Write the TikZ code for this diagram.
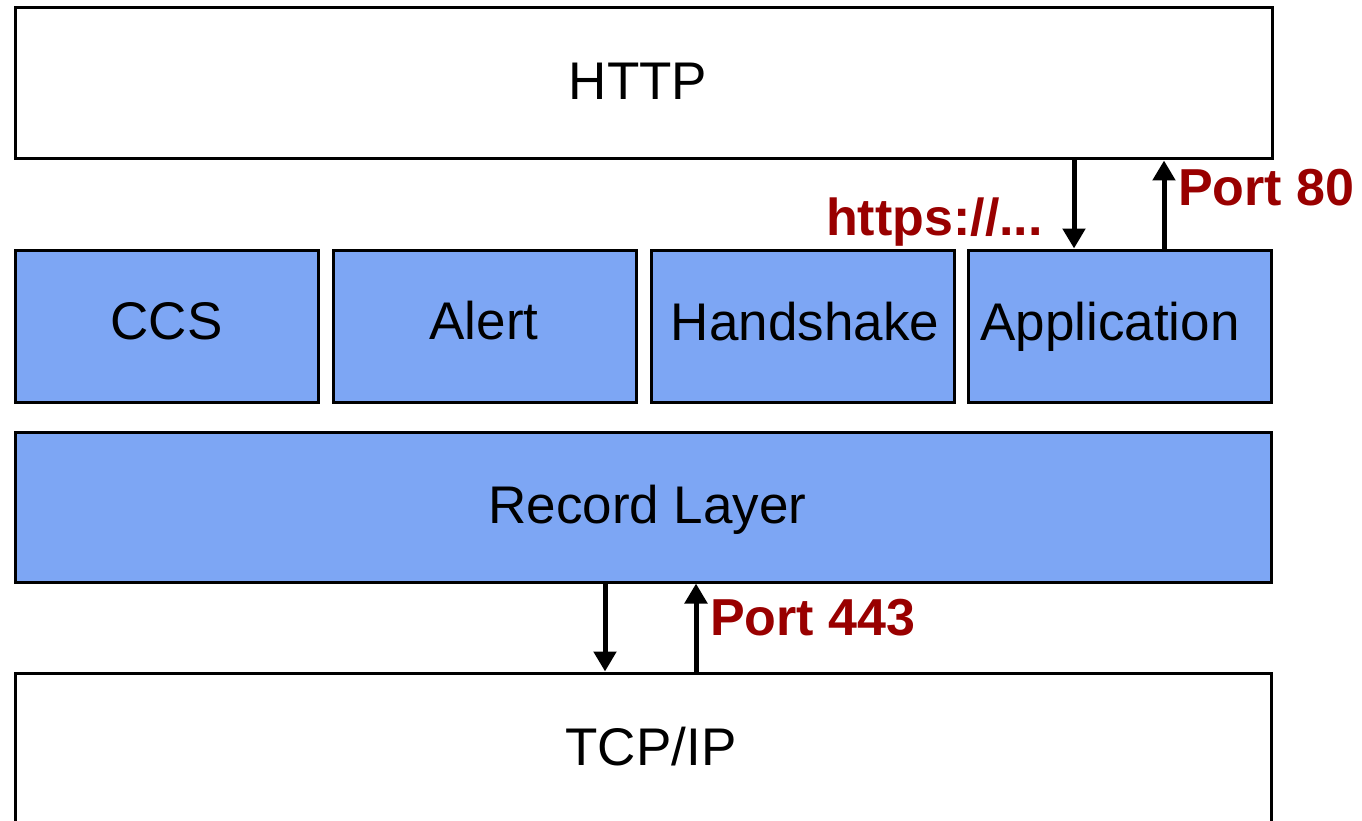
\documentclass[tikz,border=0pt]{standalone}
\usepackage{fontspec}
\setmainfont{Liberation Sans}
\usetikzlibrary{arrows.meta}
\definecolor{layerblue}{HTML}{7DA6F4}
\definecolor{portred}{HTML}{990000}
\tikzset{
  layer/.style={draw=black, line width=3pt, rectangle, inner sep=0pt},
  bluelayer/.style={layer, fill=layerblue},
  whitelayer/.style={layer, fill=white},
  layertext/.style={inner sep=0pt, anchor=base, font=\fontsize{53}{60}\selectfont},
  portlabel/.style={inner sep=0pt, text=portred,
    font=\fontsize{52}{60}\selectfont\bfseries},
  arr/.style={line width=5pt, -{Triangle[width=22pt,length=20pt]}}
}
\begin{document}
\begin{tikzpicture}[x=1pt,y=-1pt]
\useasboundingbox (0,0) rectangle (1362,821);
\fill[white] (0,0) rectangle (1362,821);
% layers
\node[whitelayer, minimum width=1257pt, minimum height=151pt] (http) at (643.5,83.5) {};
\node[bluelayer, minimum width=303pt, minimum height=152pt] (ccs) at (166.5,326) {};
\node[bluelayer, minimum width=303pt, minimum height=152pt] (alert) at (484.5,326) {};
\node[bluelayer, minimum width=303pt, minimum height=152pt] (hs) at (802.5,326) {};
\node[bluelayer, minimum width=303pt, minimum height=152pt] (app) at (1119.5,326) {};
\node[bluelayer, minimum width=1256pt, minimum height=150pt] (rec) at (643,507) {};
\begin{scope}
\clip (0,0) rectangle (1362,821);
\node[whitelayer, minimum width=1256pt, minimum height=170pt] (tcp) at (643,758) {};
\end{scope}
% layer texts
\node[layertext] (httpT) at (638,100) {HTTP};
\node[layertext] (ccsT) at (166.5,339) {CCS};
\node[layertext] (alertT) at (484,339) {Alert};
\node[layertext] (hsT) at (805,340) {Handshake};
\node[layertext] (appT) at (1110,340) {Application};
\node[layertext] (recT) at (647.5,523) {Record Layer};
\node[layertext] (tcpT) at (651,765) {TCP/IP};
% helper coordinates
\coordinate (a1) at (1074,0);
\coordinate (a2) at (1164,0);
\coordinate (b1) at (605,0);
\coordinate (b2) at (696,0);
% arrows
\draw[arr] (http.south -| a1) -- (app.north -| a1);
\draw[arr] (app.north -| a2) -- (http.south -| a2);
\draw[arr] (rec.south -| b1) -- (tcp.north -| b1);
\draw[arr] (tcp.north -| b2) -- (rec.south -| b2);
% labels
\node[portlabel, anchor=base west] (p80) at (1178,205) {Port 80};
\node[portlabel, anchor=base east] (https) at (1043,235) {https://...};
\node[portlabel, anchor=base west] (p443) at (710,635) {Port 443};
\end{tikzpicture}
\end{document}
